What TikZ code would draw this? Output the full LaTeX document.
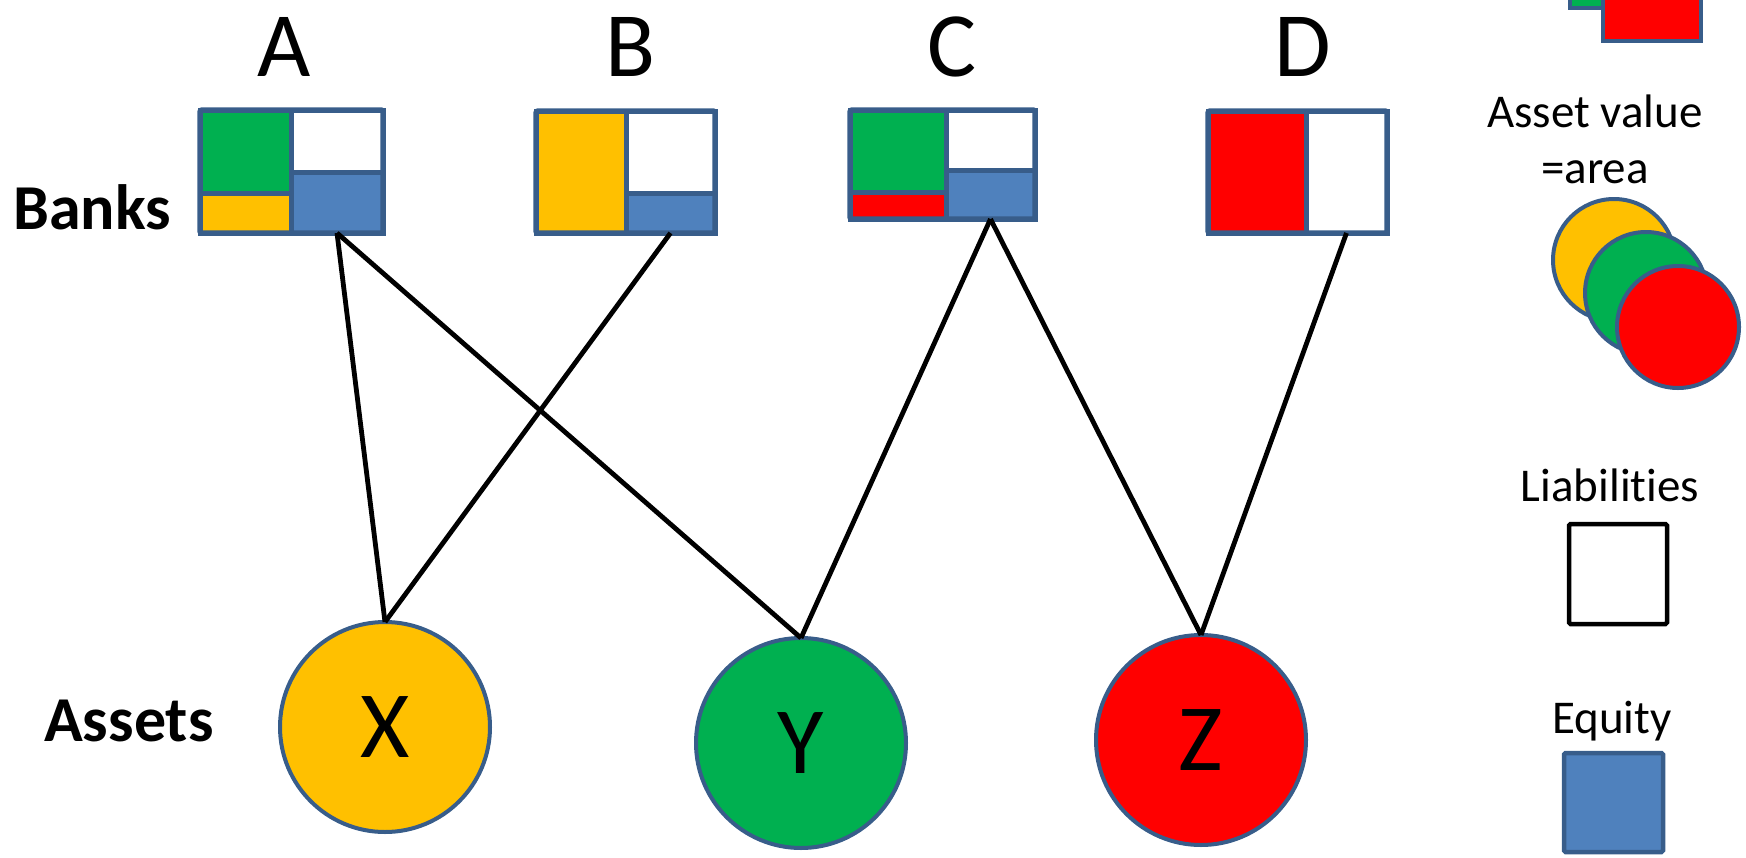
\documentclass[tikz,border=0pt]{standalone}
\usepackage{fontspec}
\setmainfont{Carlito}
\definecolor{bcol}{RGB}{56,93,138}
\definecolor{cgreen}{RGB}{0,176,80}
\definecolor{cyellow}{RGB}{255,192,0}
\definecolor{cred}{RGB}{255,0,0}
\definecolor{cblue}{RGB}{79,129,189}
\begin{document}
\begin{tikzpicture}[x=1pt,y=-1pt,
  part/.style={draw=bcol, line width=5pt, inner sep=0pt, outer sep=0pt},
  frame/.style={draw=bcol, line width=5.5pt, rounded corners=2pt, inner sep=0pt, outer sep=0pt},
  asset/.style={circle, draw=bcol, line width=4pt, minimum size=210pt, inner sep=0pt, outer sep=0pt, font=\fontsize{95}{95}\selectfont},
  smallasset/.style={circle, draw=bcol, line width=4pt, minimum size=122pt, inner sep=0pt},
  link/.style={line width=4.8pt, black},
  banklabel/.style={anchor=base, font=\fontsize{92}{92}\selectfont, inner sep=0pt},
  rowlabel/.style={anchor=base west, font=\fontsize{64}{64}\selectfont\bfseries, inner sep=0pt},
  legtext/.style={anchor=base, font=\fontsize{47}{47}\selectfont, inner sep=0pt}
]
\useasboundingbox (0,0) rectangle (1746,857);
\clip (0,0) rectangle (1746,857);

% bank labels
\node[banklabel] (lA) at (284,76) {A};
\node[banklabel] (lB) at (631,76) {B};
\node[banklabel] (lC) at (952,76) {C};
\node[banklabel] (lD) at (1303,76) {D};
\node[rowlabel] (banks) at (13,229) {Banks};
\node[rowlabel] (assets) at (44,741) {Assets};

% bank A
\node[part, fill=cgreen, minimum width=91pt, minimum height=83pt] (Ag) at (245.5,151.5) {};
\node[part, fill=cyellow, minimum width=91pt, minimum height=40pt] (Ay) at (245.5,213) {};
\node[part, fill=white, minimum width=92pt, minimum height=62pt] (Al) at (337,141) {};
\node[part, fill=cblue, minimum width=92pt, minimum height=61pt] (Ae) at (337,202.5) {};
\node[frame, minimum width=183pt, minimum height=123pt] (A) at (291.5,171.5) {};
% bank B
\node[part, fill=cyellow, minimum width=90pt, minimum height=122pt] (By) at (581,172) {};
\node[part, fill=white, minimum width=89pt, minimum height=82pt] (Bl) at (670.5,152) {};
\node[part, fill=cblue, minimum width=89pt, minimum height=40pt] (Be) at (670.5,213) {};
\node[frame, minimum width=179pt, minimum height=122pt] (B) at (625.5,172) {};
% bank C
\node[part, fill=cgreen, minimum width=96pt, minimum height=82pt] (Cg) at (898,151) {};
\node[part, fill=cred, minimum width=96pt, minimum height=27pt] (Cr) at (898,205.5) {};
\node[part, fill=white, minimum width=89pt, minimum height=60pt] (Cl) at (990.5,140) {};
\node[part, fill=cblue, minimum width=89pt, minimum height=49pt] (Ce) at (990.5,194.5) {};
\node[frame, minimum width=185pt, minimum height=109pt] (C) at (942.5,164.5) {};
% bank D
\node[part, fill=cred, minimum width=98pt, minimum height=122pt] (Dr) at (1257,172) {};
\node[part, fill=white, minimum width=81pt, minimum height=122pt] (Dl) at (1346.5,172) {};
\node[frame, minimum width=179pt, minimum height=122pt] (D) at (1297.5,172) {};

% assets
\node[asset, fill=cyellow] (X) at (385,727) {X};
\node[asset, fill=cgreen] (Y) at (801,743) {Y};
\node[asset, fill=cred] (Z) at (1201,740) {Z};

% links
\draw[link] (Ae.south) -- (X.north);
\draw[link] (Ae.south) -- (Y.north);
\draw[link] (Be.south) -- (X.north);
\draw[link] (Ce.south) -- (Y.north);
\draw[link] (Ce.south) -- (Z.north);
\draw[link] (Dl.south) -- (Z.north);

% legend
\node[part, line width=4.5pt, fill=cgreen, minimum width=98pt, minimum height=98pt] (lgG) at (1619,-41) {};
\node[part, line width=4.5pt, fill=cred, minimum width=98pt, minimum height=98pt] (lgR) at (1652,-8) {};
\node[legtext] (av) at (1595,127) {Asset value};
\node[legtext] (ar) at (1595,183) {=area};
\node[smallasset, fill=cyellow] (sY) at (1614,260) {};
\node[smallasset, fill=cgreen] (sG) at (1646,293) {};
\node[smallasset, fill=cred] (sR) at (1678,327) {};
\node[legtext] (liab) at (1610,501) {Liabilit\kern0pt ies};
\node[draw=black, line width=4.5pt, fill=white, rounded corners=1.5pt, minimum width=98pt, minimum height=100pt, inner sep=0pt] (lgL) at (1618,574) {};
\node[legtext] (eq) at (1612,733) {Equity};
\node[part, line width=4.5pt, fill=cblue, rounded corners=1.5pt, minimum width=99pt, minimum height=99pt] (lgE) at (1613.5,802.5) {};
\end{tikzpicture}
\end{document}
